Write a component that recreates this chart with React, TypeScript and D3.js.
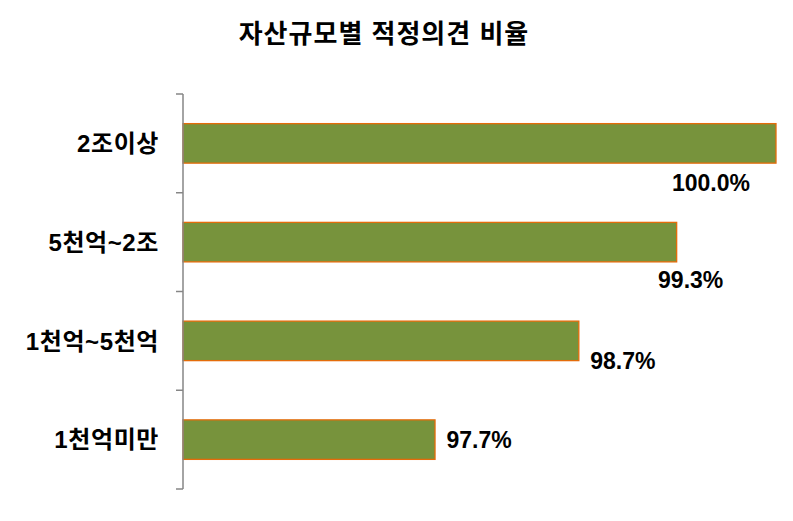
import * as d3 from 'd3'

// Asset-size groups, top to bottom
const CATEGORIES = ['2조이상', '5천억~2조', '1천억~5천억', '1천억미만']
// Share of clean (적정) opinions, %; bar lengths
const VALUES = [100.0, 99.33, 98.67, 97.7]
const X_DOMAIN = [96, 100]
const TITLE = '자산규모별 적정의견 비율'

// Excel-style hand-placed data labels: offset from bar end / bar centre
const LABEL_NUDGE: [number, number][] = [
  [-65, 39],
  [14, 38],
  [44, 20],
  [44, 0],
]

const FONT = "'Liberation Sans', Arial, 'Noto Sans CJK KR', sans-serif"

const App = () => {
  const width = 793
  const height = 521
  const axisX = 183

  const x = d3.scaleLinear().domain(X_DOMAIN).range([axisX, 776])
  const y = d3
    .scaleBand<string>()
    .domain(CATEGORIES)
    .range([94, 489])
    .paddingInner(0.6)
    .paddingOuter(0.3)

  const step = y.step()
  const [y0, y1] = y.range()
  const tickYs = d3.range(CATEGORIES.length + 1).map(i => y0 + i * step)

  return (
    <svg
      width={width}
      height={height}
      style={{ position: 'absolute', left: 0, top: 0, background: '#fff' }}
      fontFamily={FONT}
    >
      {/* title */}
      <text
        x={384}
        y={43}
        textAnchor="middle"
        fontSize={26}
        fontWeight="bold"
        letterSpacing={1}
        fill="#000"
      >
        {TITLE}
      </text>

      {/* bars */}
      {CATEGORIES.map((c, i) => (
        <rect
          key={c}
          x={x(X_DOMAIN[0])}
          y={y(c)}
          width={x(VALUES[i]) - x(X_DOMAIN[0])}
          height={y.bandwidth()}
          fill="#77933C"
          stroke="#E46C0A"
          strokeWidth={1.3}
        />
      ))}

      {/* vertical category axis */}
      <line x1={axisX} x2={axisX} y1={y0} y2={y1} stroke="#868686" strokeWidth={1.5} />
      {tickYs.map(t => (
        <line key={t} x1={axisX - 7} x2={axisX} y1={t} y2={t} stroke="#868686" strokeWidth={1.5} />
      ))}

      {/* category labels */}
      {CATEGORIES.map(c => (
        <text
          key={c}
          x={159}
          y={(y(c) ?? 0) + y.bandwidth() / 2}
          dy="0.36em"
          textAnchor="end"
          fontSize={24}
          fontWeight="bold"
          letterSpacing={0.6}
          fill="#000"
        >
          {c}
        </text>
      ))}

      {/* value labels */}
      {CATEGORIES.map((c, i) => (
        <text
          key={c}
          x={x(VALUES[i]) + LABEL_NUDGE[i][0]}
          y={(y(c) ?? 0) + y.bandwidth() / 2 + LABEL_NUDGE[i][1]}
          dy="0.36em"
          textAnchor="middle"
          fontSize={23}
          fontWeight="bold"
          fill="#000"
        >
          {VALUES[i].toFixed(1) + '%'}
        </text>
      ))}
    </svg>
  )
}

export default App
